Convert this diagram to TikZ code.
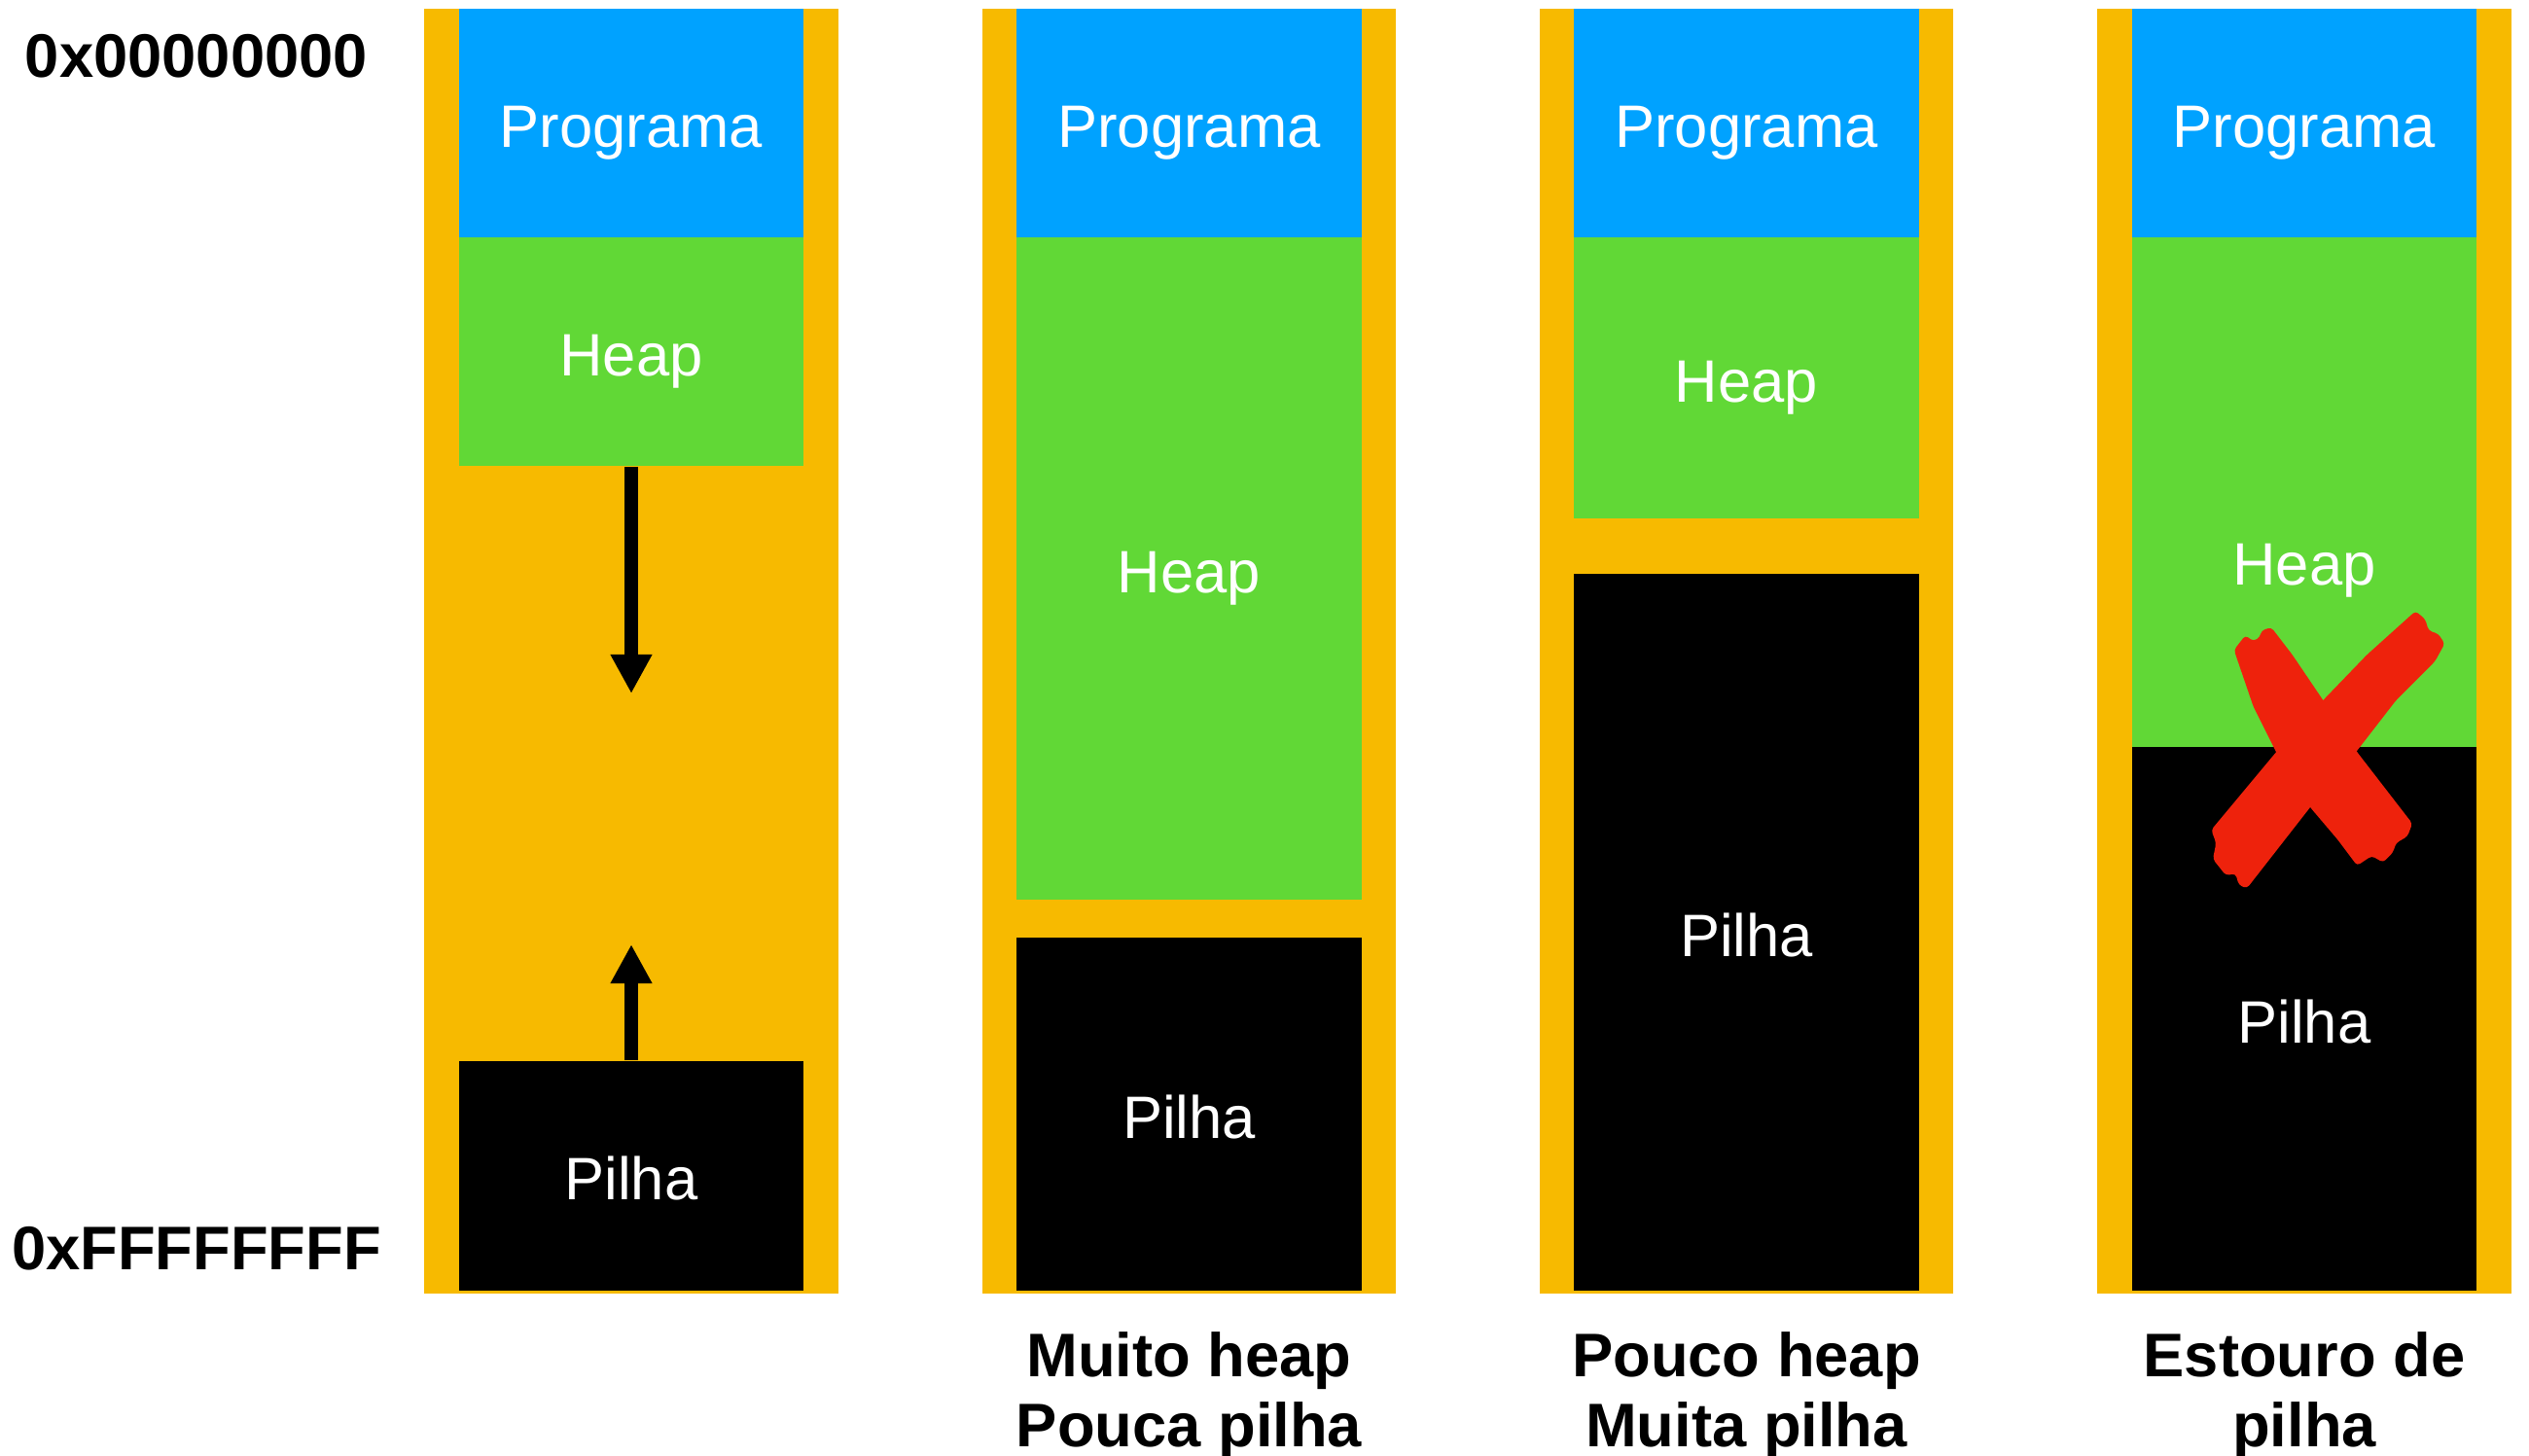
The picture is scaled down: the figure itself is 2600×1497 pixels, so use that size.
\documentclass[tikz,border=0pt]{standalone}
\usepackage{fontspec}
\setmainfont{Liberation Sans}
\usepackage{tikz}
\usetikzlibrary{arrows.meta}
\definecolor{memyellow}{HTML}{F7BA00}
\definecolor{progblue}{HTML}{00A2FF}
\definecolor{heapgreen}{HTML}{61D836}
\definecolor{xred}{HTML}{EE220C}
\tikzset{
  coluna/.style={fill=memyellow, inner sep=0pt, minimum width=4.25cm, minimum height=13.21cm},
  bloco/.style={inner sep=0pt, minimum width=3.54cm, text=white, font=\fontsize{17.5}{21}\selectfont, text height=14.2pt, text depth=0pt},
  endereco/.style={font=\bfseries\fontsize{18}{22}\selectfont, anchor=base},
  legenda/.style={font=\bfseries\fontsize{18}{20.5}\selectfont, align=center, anchor=north, inner sep=0pt},
  seta/.style={line width=3.8pt, -{Triangle[width=0.4cm,length=0.4cm]}},
}
\begin{document}
\begin{tikzpicture}[x=0.01cm, y=-0.01cm]
\useasboundingbox (0,0) rectangle (2600,1497);
%%%%% Colunas de memoria %%%%%
\foreach \x [count=\i] in {649,1222.5,1795.5,2369}{
\node[coluna] (col\i) at (\x,669.5) {};
\node[bloco, fill=progblue, minimum height=2.35cm] (prog\i) at (\x,126.5) {Programa};
}
%%%%% Enderecos %%%%%
\node[endereco] (ini) at (202,80) {0x00000000};
\node[endereco] (fim) at (202,1305) {0xFFFFFFFF};
%%%%% Coluna 1 %%%%%
\node[bloco, fill=heapgreen, minimum height=2.35cm] (heap1) at (649,361.5) {Heap};
\node[bloco, fill=black, minimum height=2.36cm] (pilha1) at (649,1209) {Pilha};
\coordinate (desce) at (649,713);
\coordinate (sobe) at (649,971);
\draw[seta] (heap1.south) -- (desce);
\draw[seta] (pilha1.north) -- (sobe);
%%%%% Coluna 2 %%%%%
\node[bloco, fill=heapgreen, minimum height=6.81cm] (heap2) at (1222.5,584.5) {Heap};
\node[bloco, fill=black, minimum height=3.63cm] (pilha2) at (1222.5,1145.5) {Pilha};
%%%%% Coluna 3 %%%%%
\node[bloco, fill=heapgreen, minimum height=2.89cm] (heap3) at (1795.5,388.5) {Heap};
\node[bloco, fill=black, minimum height=7.37cm] (pilha3) at (1795.5,958.5) {Pilha};
%%%%% Coluna 4 %%%%%
\node[bloco, fill=heapgreen, minimum height=5.24cm] (heap4) at (2369,506) {};
\node[bloco] (rotheap4) at (2369,577) {Heap};
\node[bloco, fill=black, minimum height=5.59cm] (pilha4) at (2369,1047.5) {Pilha};
% X de estouro
\fill[xred, rounded corners=1pt] (2296.7,668.3) -- (2308.3,653.3) -- (2316.7,659.3) -- (2323.3,655) -- (2325,648.3) -- (2335,645) -- (2356.7,673.3) -- (2388.3,720) -- (2423.3,773.3) -- (2480,846.7) -- (2475,860) -- (2463.3,866.7) -- (2460,876.7) -- (2450,886.7) -- (2438.3,880) -- (2423.3,890) -- (2403.3,863.3) -- (2375,830) -- (2340,773.3) -- (2316.7,726.7) -- cycle;
\fill[xred, rounded corners=1pt] (2483.3,628.3) -- (2493.3,636.7) -- (2496.7,648.3) -- (2506.7,651.7) -- (2513.3,661.7) -- (2503.3,680) -- (2463.3,720) -- (2423.3,771.7) -- (2375,830) -- (2310,913.3) -- (2301.7,910) -- (2298.3,898.3) -- (2288.3,900) -- (2275,883.3) -- (2278.3,866.7) -- (2273.3,853.3) -- (2340,773.3) -- (2388.3,720) -- (2433.3,673.3) -- cycle;
%%%%% Legendas %%%%%
\node[legenda] (leg2) at (1222.5,1369) {Muito heap\\Pouca pilha};
\node[legenda] (leg3) at (1795.5,1369) {Pouco heap\\Muita pilha};
\node[legenda] (leg4) at (2369,1369) {Estouro de\\pilha};
\end{tikzpicture}
\end{document}
